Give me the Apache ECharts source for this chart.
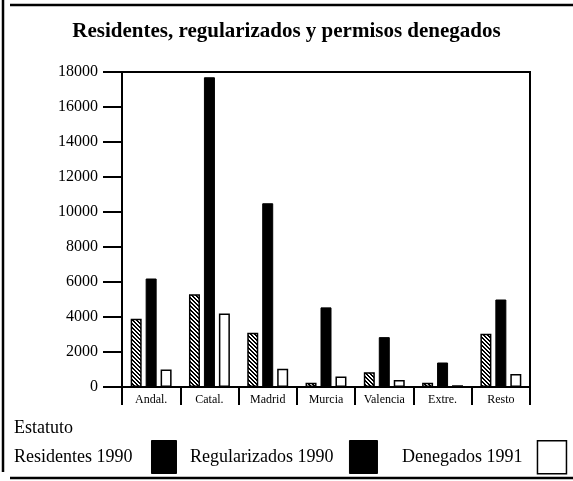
<!DOCTYPE html>
<html><head><meta charset="utf-8">
<script src="https://cdn.jsdelivr.net/npm/echarts@6/dist/echarts.min.js"></script>
<style>html,body{margin:0;padding:0;background:#fff}#c{width:573px;height:481px}</style>
</head><body><div id="c"></div>
<script>
var categories = ['Andal.', 'Catal.', 'Madrid', 'Murcia', 'Valencia', 'Extre.', 'Resto'];
var residentes1990 = [3900, 5300, 3100, 250, 850, 250, 3050];
var regularizados1990 = [6200, 17700, 10500, 4550, 2850, 1400, 5000];
var denegados1991 = [1000, 4200, 1050, 600, 400, 100, 750];
var seriesNames = ['Residentes 1990', 'Regularizados 1990', 'Denegados 1991'];
var titleText = 'Residentes, regularizados y permisos denegados';
var legendTitle = 'Estatuto';

var pc = document.createElement('canvas');
pc.width = 4; pc.height = 4;
var ctx = pc.getContext('2d');
var img = ctx.createImageData(4, 4);
for (var y = 0; y < 4; y++) for (var x = 0; x < 4; x++) {
  var i = (y * 4 + x) * 4;
  var m = ((x - y) % 4 + 4) % 4;
  var v = (m === 0 || m === 1) ? 0 : 255;
  img.data[i] = v; img.data[i+1] = v; img.data[i+2] = v; img.data[i+3] = 255;
}
ctx.putImageData(img, 0, 0);

var serif = 'Liberation Serif';
var chart = echarts.init(document.getElementById('c'), null, {renderer: 'canvas'});
function legendAt(left, idx, style, gap, w) {
  return {
    left: left, top: 440, orient: 'horizontal', align: 'right', padding: 0,
    itemWidth: w, itemHeight: 33, itemGap: 0,
    selectedMode: false,
    textStyle: {fontFamily: serif, fontSize: 18, color: '#000', padding: [0, gap, 0, 0]},
    data: [{name: seriesNames[idx], icon: 'rect', itemStyle: style}]
  };
}
chart.setOption({
  animation: false,
  backgroundColor: '#fff',
  title: {text: titleText, left: 'center', top: 16,
    textStyle: {fontFamily: serif, fontWeight: 'bold', fontSize: 21, color: '#000'}},
  grid: {left: 122, right: 43, top: 72, bottom: 94, show: true, borderColor: '#000', borderWidth: 2, backgroundColor: 'transparent'},
  legend: [
    legendAt(14, 0, {color: '#000', borderColor: '#000', borderWidth: 1}, 14, 25),
    legendAt(190, 1, {color: '#000', borderColor: '#000', borderWidth: 1}, 11, 28),
    legendAt(402, 2, {color: '#fff', borderColor: '#000', borderWidth: 1.5}, 10, 29)
  ],
  xAxis: {
    type: 'category', data: categories,
    axisLine: {lineStyle: {color: '#000', width: 2}},
    axisTick: {show: true, length: 18, lineStyle: {color: '#000', width: 2}},
    axisLabel: {fontFamily: serif, fontSize: 12, color: '#000', margin: 7},
    splitLine: {show: false}
  },
  yAxis: {
    type: 'value', min: 0, max: 18000, interval: 2000,
    axisLine: {show: true, lineStyle: {color: '#000', width: 2}},
    axisTick: {show: true, length: 19, lineStyle: {color: '#000', width: 2}},
    axisLabel: {fontFamily: serif, fontSize: 16, color: '#000', margin: 24,
      formatter: function (v) { return String(v); }},
    splitLine: {show: false}
  },
  series: [
    {name: seriesNames[0], type: 'bar', data: residentes1990, barWidth: 11, barGap: '36%',
      itemStyle: {color: {image: pc, repeat: 'repeat'}, borderColor: '#000', borderWidth: 1.5}},
    {name: seriesNames[1], type: 'bar', data: regularizados1990, barWidth: 11, barGap: '36%',
      itemStyle: {color: '#000', borderColor: '#000', borderWidth: 1}},
    {name: seriesNames[2], type: 'bar', data: denegados1991, barWidth: 11, barGap: '36%',
      itemStyle: {color: '#fff', borderColor: '#000', borderWidth: 1.5}}
  ],
  graphic: [
    {type: 'text', left: 14, top: 419, style: {text: legendTitle, font: '18px "Liberation Serif"', fill: '#000'}},
    {type: 'line', shape: {x1: 3, y1: 0, x2: 3, y2: 472}, style: {stroke: '#000', lineWidth: 2.5}},
    {type: 'line', shape: {x1: 10, y1: 5, x2: 573, y2: 5}, style: {stroke: '#000', lineWidth: 2.5}},
    {type: 'line', shape: {x1: 10, y1: 478, x2: 573, y2: 478}, style: {stroke: '#000', lineWidth: 2.5}}
  ]
});
</script></body></html>
